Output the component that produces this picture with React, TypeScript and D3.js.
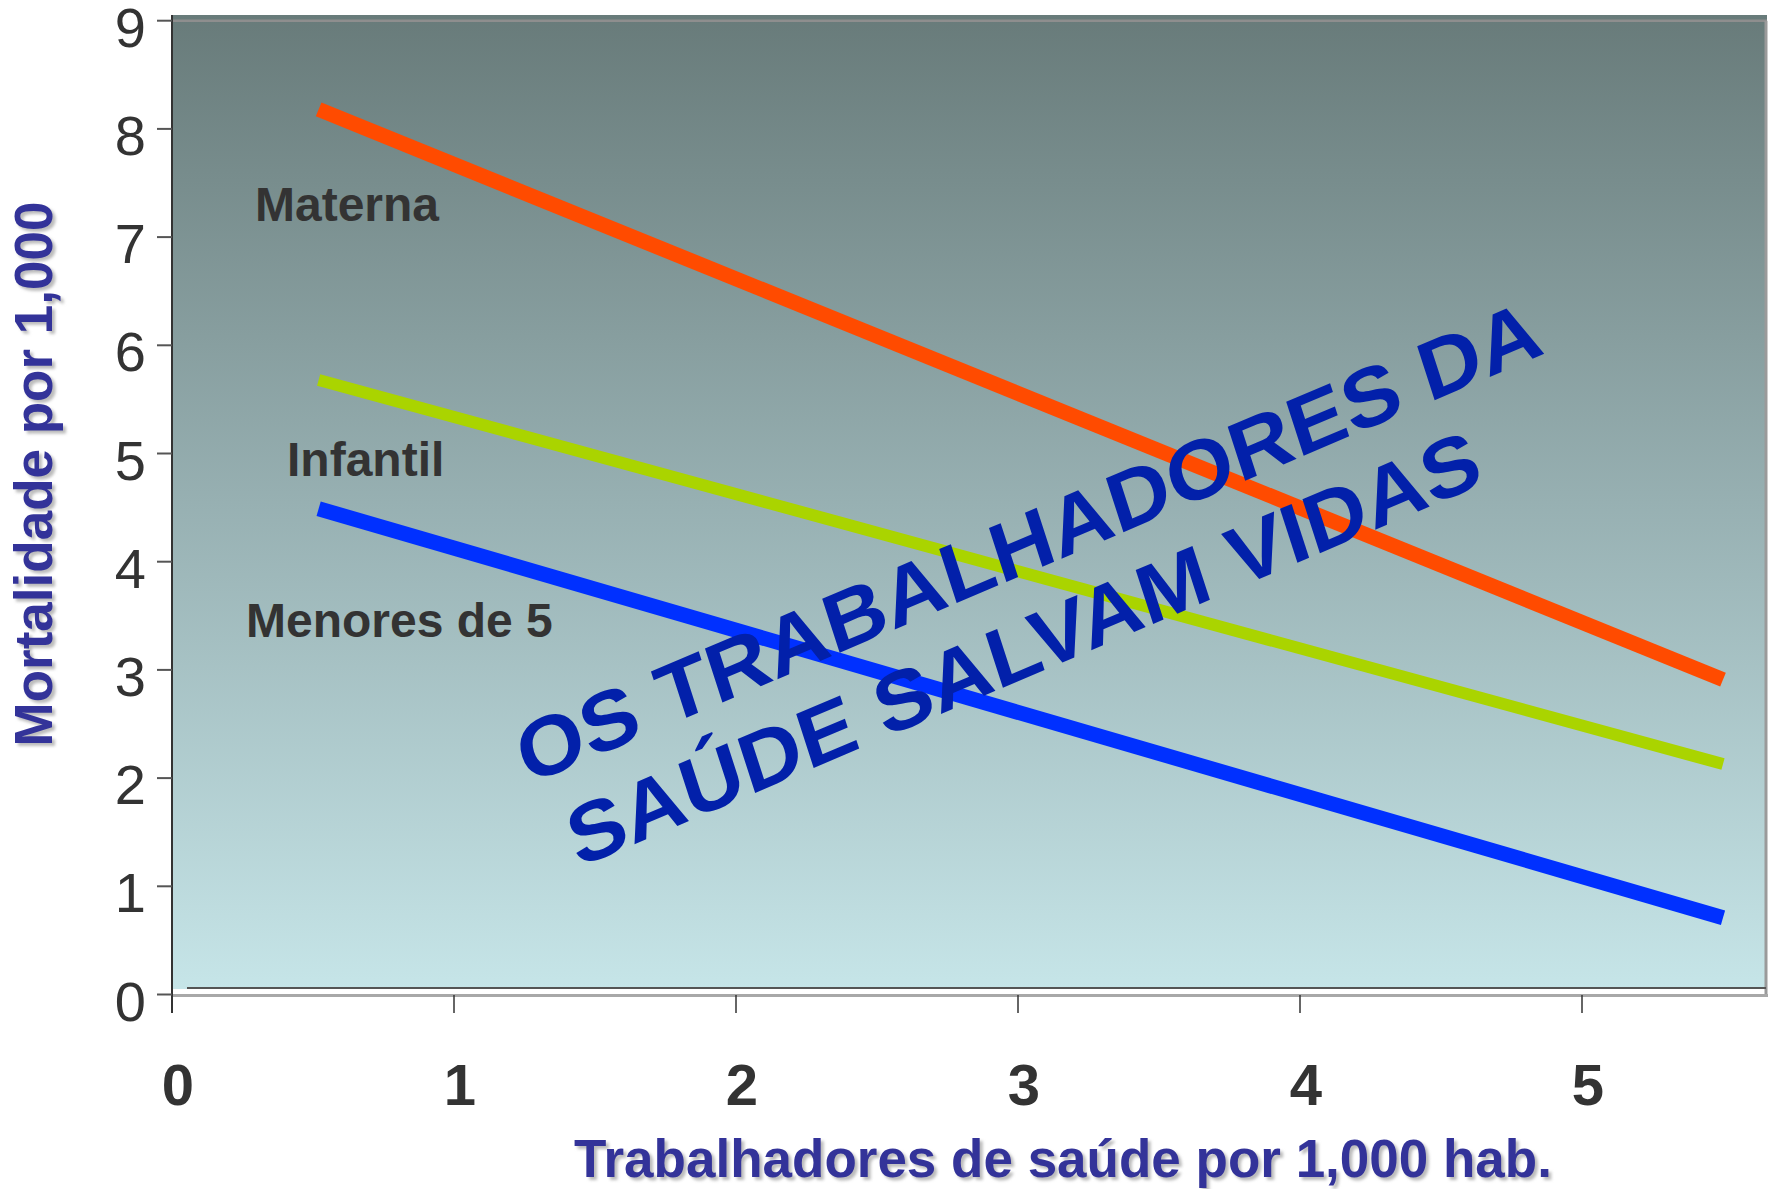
import React from "react";
import * as d3 from "d3";

// ---- data ----
const xTicks = [0, 1, 2, 3, 4, 5];
const yTicks = [0, 1, 2, 3, 4, 5, 6, 7, 8, 9];
const xEndpoints = [0.52, 5.5];
const seriesNames = ["Materna", "Infantil", "Menores de 5"];
const maternaValues = [8.18, 2.91];
const infantilValues = [5.68, 2.13];
const menoresValues = [4.49, 0.71];
const seriesColors = ["#ff4b00", "#aad400", "#0030ff"];
const seriesWidths = [15, 12, 15];
const xAxisTitle = "Trabalhadores de saúde por 1,000 hab.";
const yAxisTitle = "Mortalidade por 1,000";
const bannerLines = ["OS TRABALHADORES DA", "SAÚDE SALVAM VIDAS"];

const FONT = "'Liberation Sans', Arial, Helvetica, sans-serif";

export default function App() {
  const W = 1777;
  const H = 1189;
  const x = d3.scaleLinear().domain([0, 5]).range([172, 1582]);
  const y = d3.scaleLinear().domain([0, 9]).range([994.5, 20.7]);

  const series = [maternaValues, infantilValues, menoresValues];
  const line = d3
    .line<[number, number]>()
    .x((d) => x(d[0]))
    .y((d) => y(d[1]));

  const labelPos = [
    { x: 255, y: 221 },
    { x: 287, y: 476 },
    { x: 246, y: 637 },
  ];

  const panelLeft = x(0);
  const panelRight = 1767;
  const panelTop = 15;
  const panelBottom = 989;

  return (
    <svg
      width={W}
      height={H}
      style={{ position: "absolute", left: 0, top: 0, display: "block", background: "#fff" }}
      fontFamily={FONT}
    >
      <defs>
        <linearGradient id="bg" x1="0" y1="0" x2="0" y2="1">
          <stop offset="0" stopColor="#687b7a" />
          <stop offset="0.5" stopColor="#97b0b2" />
          <stop offset="1" stopColor="#c6e5e8" />
        </linearGradient>
        <filter id="shadow" x="-10%" y="-10%" width="120%" height="120%">
          <feGaussianBlur stdDeviation="1.5" />
        </filter>
      </defs>

      {/* plot panel */}
      <rect
        x={panelLeft}
        y={panelTop}
        width={panelRight - panelLeft}
        height={panelBottom - panelTop}
        fill="url(#bg)"
      />
      {/* 3D borders */}
      <line x1={panelLeft} x2={panelRight} y1={y(9)} y2={y(9)} stroke="#8e8e8e" strokeWidth={2.5} />
      <line x1={1766} x2={1766} y1={y(9)} y2={996} stroke="#9a9a9a" strokeWidth={3} />
      <line x1={187} x2={1766} y1={988} y2={988} stroke="#555" strokeWidth={2} />
      <line x1={panelLeft} x2={1768} y1={995.5} y2={995.5} stroke="#a8a8a8" strokeWidth={3} />

      {/* y axis */}
      <line x1={panelLeft} x2={panelLeft} y1={panelTop} y2={1013} stroke="#333" strokeWidth={2} />
      {yTicks.map((t) => (
        <g key={"y" + t}>
          <line x1={157} x2={panelLeft} y1={y(t)} y2={y(t)} stroke="#555" strokeWidth={2} />
          <text x={146} y={y(t) + 26} textAnchor="end" fontSize={56} fill="#333">
            {t}
          </text>
        </g>
      ))}

      {/* x axis ticks */}
      {xTicks.map((t) => (
        <g key={"x" + t}>
          {t > 0 && (
            <line x1={x(t)} x2={x(t)} y1={995} y2={1013} stroke="#333" strokeWidth={1.5} />
          )}
          <text
            x={x(t) + 6}
            y={1105}
            textAnchor="middle"
            fontSize={58}
            fontWeight="bold"
            fill="#333"
          >
            {t}
          </text>
        </g>
      ))}

      {/* series lines */}
      {series.map((vals, i) => (
        <path
          key={seriesNames[i]}
          d={line(xEndpoints.map((xv, j) => [xv, vals[j]] as [number, number])) || ""}
          stroke={seriesColors[i]}
          strokeWidth={seriesWidths[i]}
          fill="none"
          strokeLinecap="butt"
        />
      ))}

      {/* series labels */}
      {seriesNames.map((name, i) => (
        <text
          key={"l" + name}
          x={labelPos[i].x}
          y={labelPos[i].y}
          fontSize={48}
          fontWeight="bold"
          fill="#333"
        >
          {name}
        </text>
      ))}

      {/* diagonal banner */}
      <g transform="translate(1037,569) rotate(-23) skewX(-5) scale(1.075,1)">
        <text x={0} y={0} textAnchor="middle" fontSize={82} fontWeight="bold" fill="#0220aa">
          {bannerLines[0]}
        </text>
        <text x={-35} y={96} textAnchor="middle" fontSize={82} fontWeight="bold" fill="#0220aa">
          {bannerLines[1]}
        </text>
      </g>

      {/* x axis title */}
      <text
        x={1066}
        y={1180}
        textAnchor="middle"
        fontSize={53}
        fontWeight="bold"
        fill="#bbbbbb"
        filter="url(#shadow)"
      >
        {xAxisTitle}
      </text>
      <text x={1063} y={1177} textAnchor="middle" fontSize={53} fontWeight="bold" fill="#333399">
        {xAxisTitle}
      </text>

      {/* y axis title */}
      <text
        transform="translate(55,477) rotate(-90)"
        textAnchor="middle"
        fontSize={53}
        fontWeight="bold"
        fill="#bbbbbb"
        filter="url(#shadow)"
      >
        {yAxisTitle}
      </text>
      <text
        transform="translate(52,474) rotate(-90)"
        textAnchor="middle"
        fontSize={53}
        fontWeight="bold"
        fill="#333399"
      >
        {yAxisTitle}
      </text>
    </svg>
  );
}
